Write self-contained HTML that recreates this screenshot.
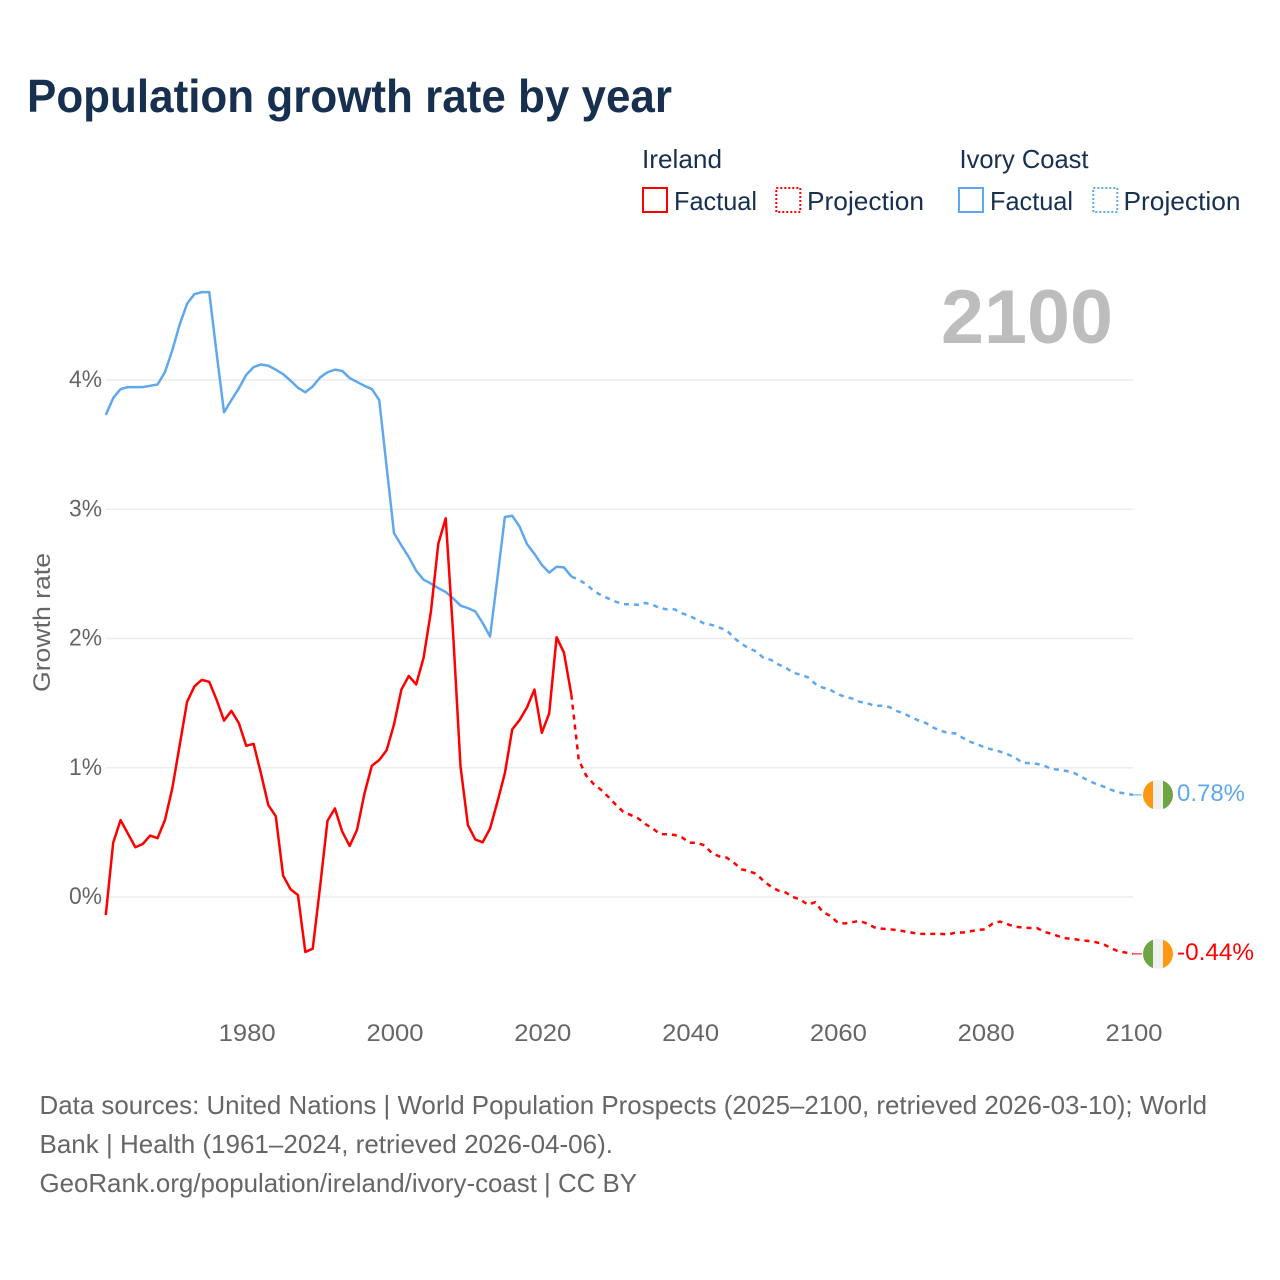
<!DOCTYPE html>
<html lang="en">
<head>
<meta charset="utf-8">
<title>Population growth rate by year</title>
<style>
html,body{margin:0;padding:0;background:#fff}
svg{display:block}
text{font-family:"Liberation Sans",sans-serif}
</style>
</head>
<body>
<svg id="chart" xmlns="http://www.w3.org/2000/svg" width="1280" height="1280" viewBox="0 0 1280 1280">
<defs>
<clipPath id="flag-clip-top"><circle cx="0" cy="0" r="15"/></clipPath>
</defs>
<text x="27" y="112" font-size="46" font-weight="700" fill="#17304f" textLength="645" lengthAdjust="spacingAndGlyphs">Population growth rate by year</text>

<g font-size="26" fill="#17304f">
<text x="642" y="168" textLength="80" lengthAdjust="spacingAndGlyphs">Ireland</text>
<rect x="643" y="188" width="24" height="24" fill="none" stroke="#ff0000" stroke-width="2"/>
<text x="674" y="210" textLength="83" lengthAdjust="spacingAndGlyphs">Factual</text>
<rect x="776.3" y="188" width="24" height="24" fill="none" stroke="#ff0000" stroke-width="2" stroke-dasharray="2 2"/>
<text x="807" y="210" textLength="117" lengthAdjust="spacingAndGlyphs">Projection</text>
<text x="959.5" y="168" textLength="129" lengthAdjust="spacingAndGlyphs">Ivory Coast</text>
<rect x="959" y="188" width="24" height="24" fill="none" stroke="#5fa8ee" stroke-width="2"/>
<text x="990" y="210" textLength="83" lengthAdjust="spacingAndGlyphs">Factual</text>
<rect x="1093.3" y="188" width="24" height="24" fill="none" stroke="#5fa8ee" stroke-width="2" stroke-dasharray="2 2"/>
<text x="1123.5" y="210" textLength="117" lengthAdjust="spacingAndGlyphs">Projection</text>
</g>

<text x="941" y="343" font-size="76" font-weight="700" fill="#bdbdbd" textLength="172" lengthAdjust="spacingAndGlyphs">2100</text>
<text transform="translate(50,692) rotate(-90)" font-size="24" fill="#666666" textLength="139" lengthAdjust="spacingAndGlyphs">Growth rate</text>

<g id="grid"></g>
<g id="yticks"></g>
<g id="xticks"></g>
<g id="series"></g>
<g id="ends"></g>

<g font-size="26" fill="#666666">
<text x="39.5" y="1114" textLength="1167.5" lengthAdjust="spacingAndGlyphs">Data sources: United Nations | World Population Prospects (2025–2100, retrieved 2026-03-10); World</text>
<text x="39.5" y="1153" textLength="573.5" lengthAdjust="spacingAndGlyphs">Bank | Health (1961–2024, retrieved 2026-04-06).</text>
<text x="39.5" y="1192" textLength="597.5" lengthAdjust="spacingAndGlyphs">GeoRank.org/population/ireland/ivory-coast | CC BY</text>
</g>
</svg>

<script>
const yTickValues = [0, 1, 2, 3, 4];
const yTickLabels = ["0%", "1%", "2%", "3%", "4%"];
const xTickYears = [1980, 2000, 2020, 2040, 2060, 2080, 2100];
const factualStartYear = 1961;
const projectionStartYear = 2024;

const irelandFactual = [-0.14,0.42,0.595,0.49,0.385,0.41,0.475,0.455,0.595,0.84,1.175,1.51,1.63,1.68,1.665,1.525,1.365,1.44,1.345,1.17,1.185,0.955,0.71,0.625,0.165,0.06,0.015,-0.425,-0.40,0.08,0.59,0.685,0.505,0.395,0.52,0.80,1.015,1.06,1.135,1.335,1.605,1.71,1.645,1.85,2.21,2.735,2.93,2.04,1.01,0.557,0.445,0.423,0.53,0.737,0.957,1.297,1.37,1.467,1.605,1.27,1.42,2.01,1.89,1.565];
const irelandProjection = [1.565,1.06,0.94,0.875,0.83,0.775,0.715,0.66,0.635,0.61,0.565,0.53,0.487,0.485,0.48,0.46,0.42,0.42,0.40,0.34,0.315,0.305,0.265,0.215,0.20,0.18,0.125,0.08,0.05,0.035,0.00,-0.02,-0.06,-0.04,-0.115,-0.145,-0.195,-0.205,-0.195,-0.185,-0.205,-0.235,-0.245,-0.25,-0.255,-0.265,-0.275,-0.285,-0.285,-0.285,-0.285,-0.29,-0.275,-0.275,-0.265,-0.255,-0.25,-0.205,-0.19,-0.21,-0.23,-0.235,-0.24,-0.24,-0.27,-0.285,-0.305,-0.32,-0.325,-0.335,-0.34,-0.35,-0.365,-0.395,-0.42,-0.43,-0.44];
const ivoryFactual = [3.73,3.86,3.93,3.945,3.945,3.945,3.955,3.965,4.06,4.23,4.43,4.59,4.665,4.68,4.68,4.205,3.75,3.845,3.935,4.04,4.10,4.12,4.11,4.08,4.045,3.995,3.94,3.905,3.95,4.02,4.06,4.08,4.07,4.015,3.985,3.955,3.93,3.845,3.33,2.815,2.72,2.63,2.525,2.455,2.425,2.39,2.36,2.31,2.255,2.235,2.21,2.12,2.015,2.47,2.94,2.95,2.865,2.73,2.655,2.57,2.51,2.555,2.55,2.48];
const ivoryProjection = [2.48,2.455,2.42,2.37,2.335,2.31,2.285,2.265,2.265,2.26,2.275,2.26,2.235,2.225,2.225,2.195,2.175,2.145,2.115,2.105,2.085,2.065,2.005,1.96,1.925,1.90,1.85,1.835,1.80,1.775,1.735,1.72,1.70,1.65,1.62,1.605,1.57,1.55,1.535,1.51,1.50,1.48,1.48,1.47,1.44,1.42,1.39,1.365,1.345,1.31,1.285,1.27,1.265,1.23,1.20,1.18,1.155,1.14,1.125,1.105,1.08,1.04,1.035,1.03,1.015,0.99,0.985,0.975,0.96,0.93,0.90,0.875,0.855,0.83,0.81,0.80,0.79];
const irelandEndLabel = "-0.44%";
const ivoryEndLabel = "0.78%";

const NS = "http://www.w3.org/2000/svg";
const xScale = year => 1133 - (2100 - year) * 7.39;
const yScale = value => 897 - value * 129.25;
const pathFor = (values, startYear) => values.map((v, i) =>
  (i ? "L" : "M") + xScale(startYear + i).toFixed(2) + " " + yScale(v).toFixed(2)).join("");
function make(tag, parent, attrs) {
  const el = document.createElementNS(NS, tag);
  for (const k in attrs) el.setAttribute(k, attrs[k]);
  parent.appendChild(el);
  return el;
}

const gridGroup = document.getElementById("grid");
const yTickGroup = document.getElementById("yticks");
yTickValues.forEach((v, i) => {
  const line = make("line", gridGroup, {x1: xScale(1961), x2: xScale(2100), y1: yScale(v), y2: yScale(v), stroke: "#ececec", "stroke-width": 1.6});
  
  
  const label = make("text", yTickGroup, {x: 102, y: yScale(v) + 7, "text-anchor": "end", "font-size": 24, fill: "#666666", textLength: 33, lengthAdjust: "spacingAndGlyphs"});
  
  
  label.textContent = yTickLabels[i];
});

const xTickGroup = document.getElementById("xticks");
xTickYears.forEach(year => {
  const label = make("text", xTickGroup, {x: xScale(year) + 1, y: 1041, "text-anchor": "middle", "font-size": 24, fill: "#666666", textLength: 57, lengthAdjust: "spacingAndGlyphs"});
  
  
  label.textContent = year;
});

const seriesGroup = document.getElementById("series");
const ivoryFactualLine = make("path", seriesGroup, {d: pathFor(ivoryFactual, factualStartYear), fill: "none", stroke: "#5fa8ee", "stroke-width": 2.5, "stroke-linejoin": "round"});


const ivoryProjectionLine = make("path", seriesGroup, {d: pathFor(ivoryProjection, projectionStartYear), fill: "none", stroke: "#5fa8ee", "stroke-width": 2.5, "stroke-dasharray": "5 5"});


const irelandFactualLine = make("path", seriesGroup, {d: pathFor(irelandFactual, factualStartYear), fill: "none", stroke: "#ff0000", "stroke-width": 2.5, "stroke-linejoin": "round"});


const irelandProjectionLine = make("path", seriesGroup, {d: pathFor(irelandProjection, projectionStartYear), fill: "none", stroke: "#ff0000", "stroke-width": 2.5, "stroke-dasharray": "5 5"});



function endMarker(lastValue, color, leftColor, rightColor, text, labelWidth) {
  const endsGroup = document.getElementById("ends");
  const y = yScale(lastValue);
  const connector = make("line", endsGroup, {x1: xScale(2100), x2: 1142, y1: y, y2: y, stroke: color, "stroke-width": 1});
  
  
  const flag = make("g", endsGroup, {transform: "translate(1158," + y + ")", "clip-path": "url(#flag-clip-top)"});
  
  
  make("rect", flag, {x: -15, y: -15, width: 10, height: 30, fill: leftColor});
  make("rect", flag, {x: -5, y: -15, width: 10, height: 30, fill: "#f0f0f0"});
  make("rect", flag, {x: 5, y: -15, width: 10, height: 30, fill: rightColor});
  const label = make("text", endsGroup, {x: 1177, y: y + 6, "font-size": 24, fill: color, textLength: labelWidth, lengthAdjust: "spacingAndGlyphs"});
  
  
  label.textContent = text;
}
endMarker(ivoryProjection[ivoryProjection.length - 1], "#5fa8ee", "#ff9811", "#6da544", ivoryEndLabel, 68);
endMarker(irelandProjection[irelandProjection.length - 1], "#ff0000", "#6da544", "#ff9811", irelandEndLabel, 77);
</script>
</body>
</html>
